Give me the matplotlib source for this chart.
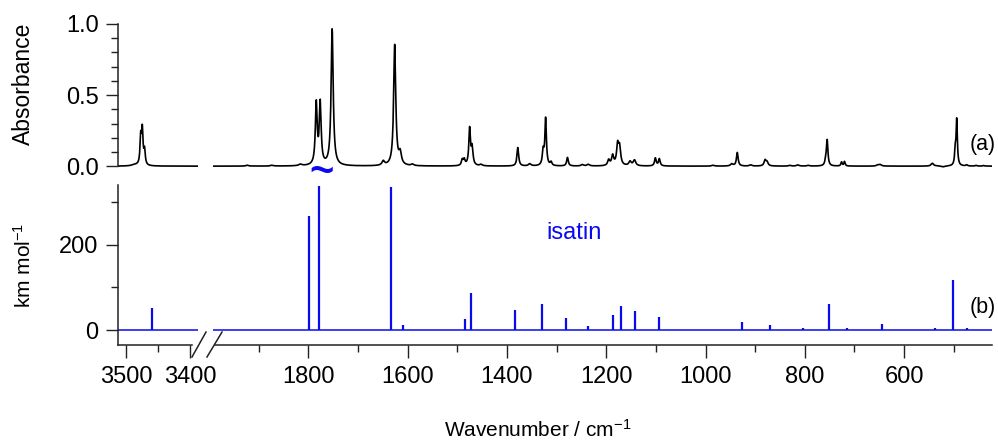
import numpy as np
import matplotlib.pyplot as plt
from matplotlib.ticker import MultipleLocator, FixedLocator, FormatStrFormatter
from matplotlib.lines import Line2D

plt.rcParams['font.family'] = ['Liberation Sans', 'DejaVu Sans']
plt.rcParams['mathtext.fontset'] = 'custom'
plt.rcParams['mathtext.rm'] = 'Liberation Sans'
plt.rcParams['mathtext.it'] = 'Liberation Sans:italic'

# ---- (a) measured IR bands: position / cm-1, peak absorbance, half width / cm-1
nh_pos = [3486, 3477, 3474.5, 3471]
nh_amp = [0.008, 0.19, 0.24, 0.10]
nh_hw = [6, 1.3, 1.3, 1.3]

fp_pos = [1923, 1873, 1816, 1784, 1776, 1752, 1649, 1626, 1615, 1590,
          1490, 1486, 1475, 1470, 1452, 1378, 1354, 1327, 1322, 1311,
          1278, 1248, 1236, 1195, 1187, 1177, 1173, 1152, 1143, 1101,
          1093, 985, 947, 936, 909, 880, 876, 830, 814, 793,
          758, 755, 726, 720, 653, 648, 543, 521, 497, 494,
          474, 455, 440]
fp_amp = [0.006, 0.006, 0.01, 0.43, 0.43, 0.96, 0.03, 0.85, 0.08, 0.01,
          0.04, 0.04, 0.26, 0.12, 0.01, 0.13, 0.015, 0.10, 0.33, 0.025,
          0.06, 0.01, 0.012, 0.04, 0.07, 0.14, 0.12, 0.03, 0.04, 0.055,
          0.05, 0.006, 0.015, 0.095, 0.008, 0.04, 0.025, 0.005, 0.008, 0.005,
          0.03, 0.18, 0.028, 0.032, 0.008, 0.01, 0.02, -0.006, 0.10, 0.32,
          0.008, 0.005, 0.004]
fp_hw = [3, 3, 4, 2.2, 2.2, 2.5, 3, 2.5, 3, 3,
         2, 2, 2, 2, 3, 2, 3, 2, 1.8, 2,
         2, 3, 3, 2.5, 2.5, 2.5, 2.5, 3, 3, 2,
         2, 3, 3, 2, 3, 2.5, 2.5, 3, 3, 3,
         1.8, 1.8, 1.5, 1.5, 3, 3, 3, 4, 1.5, 1.5,
         2, 2, 2]

# ---- (b) calculated harmonic intensities / km mol-1
calc_nh_pos = [3460]
calc_nh_int = [52]
calc_fp_pos = [1799, 1779, 1633, 1609, 1485, 1472, 1383, 1329, 1281, 1236,
               1187, 1170, 1142, 1093, 926, 870, 803, 751, 716, 645,
               537, 502, 474]
calc_fp_int = [268, 338, 336, 12, 26, 88, 48, 62, 29, 10,
               36, 57, 44, 30, 20, 13, 5, 60, 6, 15,
               5, 117, 4]

xlim_nh = (3512.5, 3387.5)
xlim_fp = (1992, 423)

BLUE = '#0a0aee'
TICK_FS = 17
LABEL_FS = 15


def band_profile(grid, pos, amp, hw):
    y = np.zeros_like(grid)
    for p, a, w in zip(pos, amp, hw):
        y += a / (1.0 + ((grid - p) / w) ** 2)
    return y


fig = plt.figure(figsize=(9.98, 4.4), dpi=100)
W, H = 998.0, 440.0


def box(x0, y0, x1, y1):
    # pixel box -> figure fraction
    return [x0 / W, 1 - y1 / H, (x1 - x0) / W, (y1 - y0) / H]


ax_ta = fig.add_axes(box(118, 24, 198, 169))
ax_tb = fig.add_axes(box(213, 24, 992, 169))
ax_ba = fig.add_axes(box(118, 185, 198, 345))
ax_bb = fig.add_axes(box(213, 185, 992, 345))

for ax in (ax_ta, ax_tb, ax_ba, ax_bb):
    for s in ax.spines.values():
        s.set_visible(False)
        s.set_linewidth(1.1)
        s.set_color('#222222')
    ax.patch.set_alpha(0)
    ax.tick_params(which='major', length=9, width=1.0, labelsize=TICK_FS,
                   color='#222222', pad=5)
    ax.tick_params(which='minor', length=5, width=1.0, color='#222222')

# ---------------- top: measured spectrum
g_nh = np.arange(xlim_nh[1], xlim_nh[0] + 0.1, 0.1)
ax_ta.plot(g_nh, band_profile(g_nh, nh_pos, nh_amp, nh_hw), color='black', lw=1.2)
g_fp = np.arange(xlim_fp[1], xlim_fp[0] + 0.1, 0.1)
ax_tb.plot(g_fp, band_profile(g_fp, fp_pos, fp_amp, fp_hw), color='black', lw=1.2)

for ax, xl in ((ax_ta, xlim_nh), (ax_tb, xlim_fp)):
    ax.set_xlim(*xl)
    ax.set_ylim(-0.02, 1.0)
    ax.set_xticks([])

ax_ta.spines['left'].set_visible(True)
ax_ta.spines['left'].set_bounds(0, 1.0)
ax_ta.yaxis.set_major_locator(FixedLocator([0.0, 0.5, 1.0]))
ax_ta.yaxis.set_minor_locator(MultipleLocator(0.1))
ax_ta.yaxis.set_major_formatter(FormatStrFormatter('%.1f'))
ax_tb.set_yticks([])
ax_tb.text(0.971, 0.172, '(a)', fontsize=15.5, va='center', ha='left',
           transform=ax_tb.transAxes, clip_on=False)
ax_tb.text(1774, -0.05, '~', fontsize=30, fontweight='bold', color=BLUE,
           ha='center', va='center', clip_on=False)

# ---------------- bottom: calculated stick spectrum
ax_ba.vlines(calc_nh_pos, 0, calc_nh_int, color=BLUE, lw=1.6)
ax_bb.vlines(calc_fp_pos, 0, calc_fp_int, color=BLUE, lw=1.6)
for ax, xl in ((ax_ba, xlim_nh), (ax_bb, xlim_fp)):
    ax.axhline(0, color=BLUE, lw=1.1)
    ax.set_xlim(*xl)
    ax.set_ylim(-35, 340)
    ax.spines['bottom'].set_visible(True)

ax_ba.spines['bottom'].set_bounds(xlim_nh[0], 3397)
ax_bb.spines['bottom'].set_bounds(1987, xlim_fp[1])

ax_ba.spines['left'].set_visible(True)
ax_ba.yaxis.set_major_locator(FixedLocator([0, 200]))
ax_ba.yaxis.set_minor_locator(FixedLocator([100, 300]))
ax_ba.xaxis.set_major_locator(FixedLocator([3500, 3400]))
ax_ba.xaxis.set_minor_locator(FixedLocator([3450]))
ax_bb.set_yticks([])
ax_bb.xaxis.set_major_locator(MultipleLocator(200))
ax_bb.xaxis.set_minor_locator(MultipleLocator(100))
ax_ba.tick_params(axis='x', pad=6)
ax_bb.tick_params(axis='x', pad=6)

ax_bb.text(0.971, 0.2375, '(b)', fontsize=15.5, va='center', ha='left',
           transform=ax_bb.transAxes, clip_on=False)
ax_bb.text(1265, 228, 'isatin', fontsize=17, color=BLUE, ha='center', va='center')

# axis-break marks between the two x segments
for x0, x1 in ((0.925, 1.1), (1.1125, 1.3)):
    ax_ba.add_line(Line2D([x0, x1], [-0.075, 0.081], color='#222222', lw=1.1,
                          transform=ax_ba.transAxes, clip_on=False))

fig.text(23 / W, 1 - 84 / H, 'Absorbance', rotation=90, fontsize=16.5,
         ha='center', va='center')
fig.text(24 / W, 1 - 265 / H, 'km mol$^{-1}$', rotation=90, fontsize=LABEL_FS,
         ha='center', va='center')
fig.text(538 / W, 1 - 430 / H, 'Wavenumber / cm$^{-1}$', fontsize=LABEL_FS,
         ha='center', va='center')

fig.savefig('out.png', dpi=100, facecolor='white')
